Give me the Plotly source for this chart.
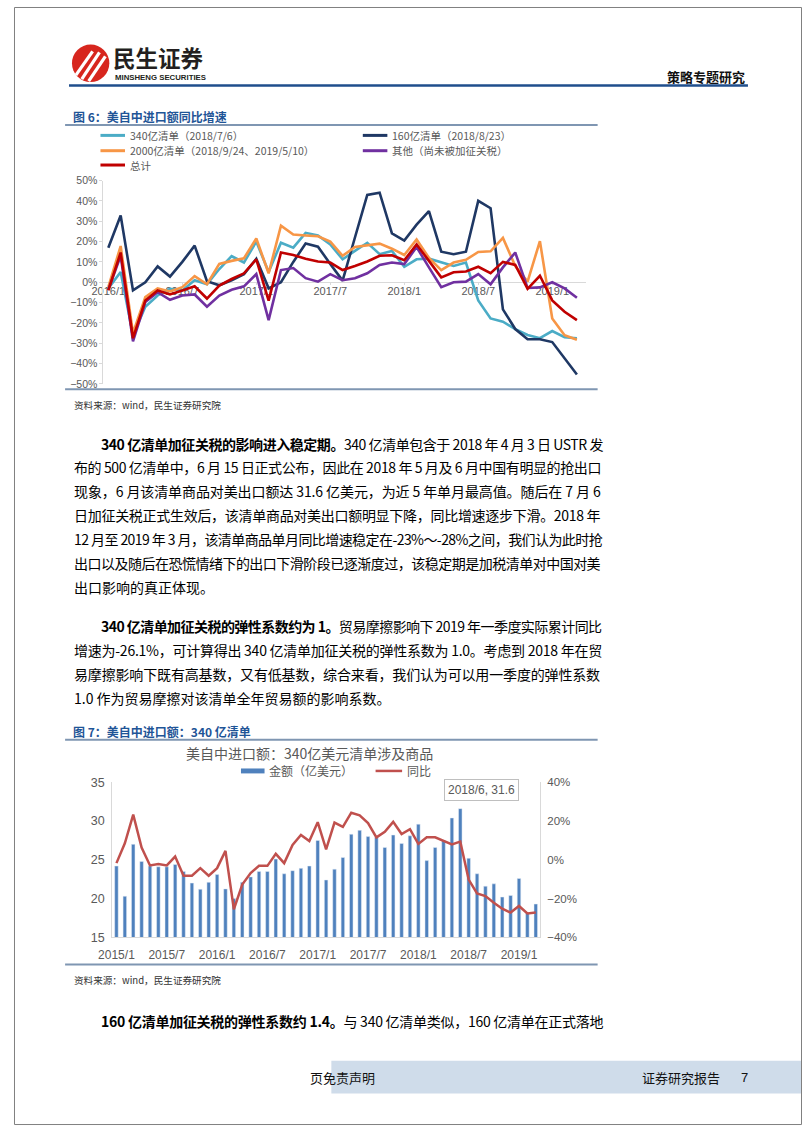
import plotly.graph_objects as go

W, H = 802, 1133
def X(px): return px / W
def Y(py): return 1 - py / H

CJK = "Noto Sans CJK SC"
LAT = "Liberation Sans, Arial, Noto Sans CJK SC"

# ---------------- Chart 1 data (YoY %, 2016/1 - 2019/3) ----------------
months1 = [f"{y}/{m}" for y in range(2016, 2020) for m in range(1, 13)][:39]
ticks1 = ["2016/1", "2016/7", "2017/1", "2017/7", "2018/1", "2018/7", "2019/1"]
names1 = ["340亿清单（2018/7/6）", "160亿清单（2018/8/23）",
          "2000亿清单（2018/9/24、2019/5/10）", "其他（尚未被加征关税）", "总计"]
list_340 = [-3, 5, -26, -12, -6.5, -3.2, -4, 1, -1, 6.5, 12.8, 9.7, 20, 5, 19.4, 17, 24.3, 23,
            18.6, 11.3, 15.4, 19.4, 13.8, 15.4, 7.6, 11.3, 11.6, 9.7, 8, 9.7, -8.9, -17.8, -19.4,
            -23, -25.9, -27.5, -24, -27, -27.5]
list_160 = [17, 32.8, -4, 0, 7.8, 2.8, 10, 18, 0.5, -1.5, 1, 4, 11.5, -3, 0, 10, 19, 17.5,
            9, 0.8, 22, 42.9, 44, 24, 20.5, 28.3, 35, 15, 13.8, 15, 40, 36.4, -13.3, -23, -28,
            -28, -29.4, -37.5, -45.3]
list_2000 = [-2.4, 17.8, -25, -7.3, -3, -4.5, -2.4, 3, -1, 9, 10.5, 11.8, 21.5, 4.4, 27.8, 23.5,
             23, 22.6, 20, 13, 17.3, 18, 19, 16.5, 13.4, 21, 12, 6, 9.7, 11, 14.9, 15.2, 21.8, 8,
             0.3, 20.2, -17.8, -26, -28.3]
list_other = [-3.7, 13, -29, -9.7, -4.9, -8.6, -6.5, -6, -12, -6.5, -3.7, -2, 4, -18.6, 6, 7, 2,
              0.3, 4, 1, 2, 4.4, 8.5, 9.7, 8.9, 17.3, 7.3, -2.4, 0, 0.3, 4, -1, 7.3, 14.6, -2.8,
              -2.5, 0, -3, -7.6]
list_total = [-4, 14.6, -27.5, -9, -4, -6, -4, -2, -8, -1.6, 1.6, 4.4, 11.3, -9, 14.6, 13.4, 11.6,
              10.2, 9.7, 6, 8, 10.2, 13, 13.3, 10.8, 18.6, 10.5, 2.4, 4.9, 5.3, 7.6, 4.5, 10, 8.5,
              -3.2, 3.2, -8.9, -14.5, -18.6]
colors1 = ["#4BACC6", "#1F3864", "#F79646", "#7030A0", "#C00000"]

# ---------------- Chart 2 data (2015/1 - 2019/3) ----------------
months2 = [f"{y}/{m}" for y in range(2015, 2020) for m in range(1, 13)][:51]
ticks2 = ["2015/1", "2015/7", "2016/1", "2016/7", "2017/1", "2017/7", "2018/1", "2018/7", "2019/1"]
amount = [24.2, 20.3, 27.0, 24.8, 24.2, 24.1, 24.1, 24.4, 23.5, 22.0, 21.2, 22.1, 23.1, 21.25,
          20.0, 22.1, 22.8, 23.5, 23.5, 25.1, 23.2, 23.6, 23.9, 24.2, 27.5, 22.4, 23.8, 25.3,
          28.3, 28.8, 28.0, 27.9, 26.6, 28.2, 27.1, 28.1, 29.6, 24.9, 26.6, 27.5, 30.4, 31.6,
          25.2, 23.2, 21.6, 21.9, 20.2, 20.4, 22.6, 18.1, 19.3]
yoy = [-1.7, 8.5, 23.3, 6.3, -2.9, -2.2, -2.9, 1.7, -8.2, -8.2, -4.3, -8.2, -4.3, 4.6, -25.5,
       -12.8, -6.8, -3.1, -3.1, 3.1, -1.7, 7.7, 12.8, 9.7, 19.4, 5.4, 19.2, 17.0, 24.3, 23.0,
       19.0, 11.6, 14.5, 19.6, 13.3, 15.8, 8.2, 11.6, 11.6, 9.9, 8.0, 9.4, -10.2, -17.3, -18.7,
       -22.1, -25.2, -27.2, -23.8, -27.7, -27.2]

fig = go.Figure()
series1 = [list_340, list_160, list_2000, list_other, list_total]
for nm, vals, col in zip(names1, series1, colors1):
    fig.add_trace(go.Scatter(x=months1, y=vals, name=nm, mode="lines",
                             line=dict(color=col, width=2.6), xaxis="x", yaxis="y",
                             showlegend=False, hoverinfo="skip"))

fig.add_trace(go.Bar(x=months2, y=amount, name="金额（亿美元）", marker_color="#4F81BD",
                     width=0.42, xaxis="x2", yaxis="y2", showlegend=False, hoverinfo="skip"))
fig.add_trace(go.Scatter(x=months2, y=yoy, name="同比", mode="lines",
                         line=dict(color="#C0504D", width=2.5), xaxis="x2", yaxis="y3",
                         showlegend=False, hoverinfo="skip"))

AX = "#D9D9D9"
TXT = "#595959"
fig.update_layout(
    width=W, height=H, margin=dict(l=0, r=0, t=0, b=0),
    paper_bgcolor="white", plot_bgcolor="rgba(0,0,0,0)", showlegend=False,
    font=dict(family=CJK, color="#000"),
    xaxis=dict(domain=[X(90), X(582)], type="category", range=[-0.478, 38.725],
               anchor="free", position=Y(278.3), showline=True, linecolor=AX, linewidth=1,
               tickvals=ticks1, ticktext=ticks1, ticks="outside", ticklen=2, tickcolor=AX,
               ticklabelstandoff=-3,
               tickfont=dict(size=11, color=TXT, family=LAT), layer="below traces",
               showgrid=False, zeroline=False),
    yaxis=dict(domain=[Y(381.7), Y(175.7)], range=[-50, 50], dtick=10, ticksuffix="%",
               anchor="free", position=X(90), showline=True, linecolor=AX, ticks="outside",
               ticklen=3, tickcolor=AX, tickfont=dict(size=10.5, color=TXT, family=LAT),
               showgrid=False, zeroline=False),
    xaxis2=dict(domain=[X(100), X(535.3)], type="category", range=[-0.5, 50.5], anchor="y2",
                showline=True, linecolor=AX, tickvals=ticks2, ticktext=ticks2, ticks="",
                ticklabelstandoff=6,
                tickfont=dict(size=12, color=TXT, family=LAT), showgrid=False, zeroline=False),
    yaxis2=dict(domain=[Y(942), Y(785)], range=[15, 35], dtick=5, anchor="x2", showline=True,
                linecolor=AX, ticklabelstandoff=4,
                tickfont=dict(size=12.5, color=TXT, family=LAT), showgrid=False,
                zeroline=False),
    yaxis3=dict(range=[-40, 40], dtick=20, ticksuffix="%", overlaying="y2", side="right",
                anchor="x2", showline=True, linecolor=AX, ticklabelstandoff=4,
                tickfont=dict(size=11.5, color=TXT, family=LAT), showgrid=False, zeroline=False),
)

shapes = []
ann = []

def hline(x0, x1, y, color, width):
    shapes.append(dict(type="line", xref="paper", yref="paper", x0=X(x0), x1=X(x1),
                       y0=Y(y), y1=Y(y), line=dict(color=color, width=width)))

def seg(x0, y0, x1, y1, color, width):
    shapes.append(dict(type="line", xref="paper", yref="paper", x0=X(x0), x1=X(x1),
                       y0=Y(y0), y1=Y(y1), line=dict(color=color, width=width)))

def rect(x0, y0, x1, y1, fill, line=None):
    shapes.append(dict(type="rect", xref="paper", yref="paper", x0=X(x0), x1=X(x1),
                       y0=Y(y1), y1=Y(y0), fillcolor=fill,
                       line=dict(width=0) if line is None else line, layer="below"))

def txt(px, py, text, size=12, color="#000", xanchor="left", family=CJK, **kw):
    ann.append(dict(x=X(px), y=Y(py), xref="paper", yref="paper", text=text, showarrow=False,
                    xanchor=xanchor, yanchor="middle", borderpad=0,
                    font=dict(size=size, color=color, family=family), **kw))

# page border
shapes.append(dict(type="rect", xref="paper", yref="paper", x0=X(0.5), x1=X(801.5),
                   y0=Y(1131.5), y1=Y(0.5), line=dict(color="#808080", width=1)))

# ---------------- header ----------------
shapes.append(dict(type="circle", xref="paper", yref="paper", x0=X(59), x1=X(97),
                   y0=Y(76), y1=Y(38), fillcolor="#D7261E", line=dict(width=0)))
for (a, b, c, d) in [(63, 69, 80, 45), (69, 73, 87, 46), (76, 75, 93, 50)]:
    seg(a, b, c, d, "white", 3.2)
txt(100, 50.5, "<b>民生证券</b>", size=22.5, color="#231F20")
txt(102, 71.5, "<b>MINSHENG SECURITIES</b>", size=7.8, color="#231F20", family=LAT)
txt(745, 70, "<b>策略专题研究</b>", size=13, color="#111", xanchor="right")
hline(56, 747, 79.5, "#1F4E8C", 2.5)

# ---------------- figure 6 ----------------
TITLE_BLUE = "#1F5597"
LINE_GB = "#7F96B2"
txt(59, 111, "<b>图 6：美自中进口额同比增速</b>", size=12, color=TITLE_BLUE)
hline(52, 594, 119.5, LINE_GB, 2)
leg_pos = [(88, 130), (355, 130), (88, 145.5), (355, 145.5), (88, 160)]
for (lx, ly), nm, col in zip(leg_pos, names1, colors1):
    seg(lx, ly, lx + 25, ly, col, 3)
    txt(lx + 29, ly, nm, size=10.5, color=TXT)
hline(52, 594, 387, LINE_GB, 2)
txt(60, 403, "资料来源：wind，民生证券研究院", size=9.6, color="#333")

# ---------------- body text ----------------
FS = 14
RIGHT = 586

def est_width(s, f):
    w = 0.0
    for ch in s:
        o = ord(ch)
        if o >= 0x2E80 or ch in "，。：；（）、～！？":
            w += 1.0
        elif ch.isdigit():
            w += 0.55
        elif ch == " ":
            w += 0.224
        elif ch in ".,":
            w += 0.27
        elif ch == "-":
            w += 0.33
        elif ch == "%":
            w += 0.88
        elif ch.isupper():
            w += 0.6
        else:
            w += 0.5
    return w * f

def body(px, py, parts, justify=True):
    full = "".join(p for p, _ in parts)
    ls = 0.0
    if justify:
        ls = (RIGHT - px - est_width(full, FS)) / len(full)
        ls = max(-1.5, min(4.0, ls))
    html = ""
    for p, b in parts:
        st = f"letter-spacing:{ls:.2f}px" + (";font-weight:bold" if b else "")
        html += f'<span style="{st}">{p}</span>'
    txt(px, py, html, size=FS, color="#000")

para1 = [
    (88, [("340 亿清单加征关税的影响进入稳定期。", True), ("340 亿清单包含于 2018 年 4 月 3 日 USTR 发", False)], True),
    (60, [("布的 500 亿清单中，6 月 15 日正式公布，因此在 2018 年 5 月及 6 月中国有明显的抢出口", False)], True),
    (60, [("现象，6 月该清单商品对美出口额达 31.6 亿美元，为近 5 年单月最高值。随后在 7 月 6", False)], True),
    (60, [("日加征关税正式生效后，该清单商品对美出口额明显下降，同比增速逐步下滑。2018 年", False)], True),
    (60, [("12 月至 2019 年 3 月，该清单商品单月同比增速稳定在-23%～-28%之间，我们认为此时抢", False)], True),
    (60, [("出口以及随后在恐慌情绪下的出口下滑阶段已逐渐度过，该稳定期是加税清单对中国对美", False)], True),
    (60, [("出口影响的真正体现。", False)], False),
]
para2 = [
    (88, [("340 亿清单加征关税的弹性系数约为 1。", True), ("贸易摩擦影响下 2019 年一季度实际累计同比", False)], True),
    (60, [("增速为-26.1%，可计算得出 340 亿清单加征关税的弹性系数为 1.0。考虑到 2018 年在贸", False)], True),
    (60, [("易摩擦影响下既有高基数，又有低基数，综合来看，我们认为可以用一季度的弹性系数", False)], True),
    (60, [("1.0 作为贸易摩擦对该清单全年贸易额的影响系数。", False)], False),
]
for i, (px, parts, j) in enumerate(para1):
    body(px, 442 + 24.2 * i, parts, j)
for i, (px, parts, j) in enumerate(para2):
    body(px, 627 + 24.2 * i, parts, j)

# ---------------- figure 7 ----------------
txt(59, 734, "<b>图 7：美自中进口额：340 亿清单</b>", size=12, color=TITLE_BLUE)
hline(52, 594, 742, LINE_GB, 2)
txt(301, 755, "美自中进口额：340亿美元清单涉及商品", size=14, color=TXT, xanchor="center")
rect(231, 771, 255, 776, "#4F81BD")
txt(259, 773.5, "金额（亿美元）", size=12, color=TXT)
seg(368, 773.5, 395, 773.5, "#C0504D", 2.5)
txt(399, 773.5, "同比", size=12, color=TXT)
ann.append(dict(x=X(476), y=Y(793), xref="paper", yref="paper", text="2018/6, 31.6",
                showarrow=False, xanchor="center", yanchor="middle", bgcolor="white",
                bordercolor="#BFBFBF", borderwidth=1, borderpad=3,
                font=dict(size=12, color=TXT, family=LAT)))
hline(52, 594, 969.5, LINE_GB, 2)
txt(60, 985, "资料来源：wind，民生证券研究院", size=9.6, color="#333")

body(88, 1027, [("160 亿清单加征关税的弹性系数约 1.4。", True), ("与 340 亿清单类似，160 亿清单在正式落地", False)], True)

# ---------------- footer ----------------
rect(323, 1067, 802, 1100, "#CFDCEA")
txt(368, 1084, "页免责声明", size=13, color="#111", xanchor="right")
txt(638, 1084, "证券研究报告", size=13, color="#111")
txt(739, 1084, "7", size=13, color="#111", family=LAT)

fig.update_layout(shapes=shapes, annotations=ann)
fig.write_html("out.html")
